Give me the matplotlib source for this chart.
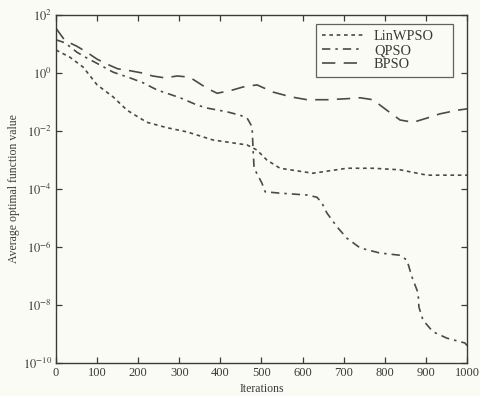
import matplotlib

matplotlib.use("Agg")

import matplotlib.pyplot as plt

plt.rcParams.update({
    "font.family": ["Liberation Serif", "DejaVu Serif"],
    "mathtext.fontset": "stix",
    "axes.linewidth": 1.0,
})

BG = "#fbfbf6"
INK = "#3a3a3a"
LINE = "#4a4a4a"

lin_iter = [0, 34, 66, 100, 139, 173, 221, 270, 319, 382, 465, 489, 513, 545,
            625, 708, 771, 837, 903, 1000]
lin_val = [6.2, 3.5, 1.6, 0.39, 0.15, 5.2e-2, 2.0e-2, 1.3e-2, 9.3e-3, 4.9e-3,
           3.3e-3, 2.2e-3, 1.0e-3, 5.2e-4, 3.5e-4, 5.2e-4, 5.2e-4, 4.6e-4,
           3.0e-4, 3.0e-4]

q_iter = [0, 22, 51, 75, 107, 139, 180, 212, 246, 302, 343, 367, 416, 448, 465,
          477, 480, 482, 501, 509, 545, 611, 635, 647, 659, 684, 708, 740, 788,
          837, 854, 866, 881, 883, 893, 917, 951, 995, 1000]
q_val = [14, 11, 5.2, 3.3, 1.9, 1.07, 0.68, 0.46, 0.26, 0.14, 7.9e-2, 6.2e-2,
         4.6e-2, 3.5e-2, 2.8e-2, 1.4e-2, 1.7e-3, 5.2e-4, 1.6e-4, 8.0e-5, 7.2e-5,
         6.2e-5, 5.2e-5, 3.3e-5, 1.5e-5, 4.9e-6, 2.0e-6, 9.3e-7, 6.2e-7, 5.2e-7,
         3.5e-7, 9.3e-8, 2.6e-8, 8.5e-9, 3.0e-9, 1.2e-9, 7.2e-10, 4.9e-10,
         4.0e-10]

b_iter = [0, 22, 50, 75, 100, 125, 150, 180, 210, 235, 265, 295, 325, 367, 392,
          430, 455, 489, 528, 572, 611, 660, 708, 740, 771, 805, 837, 869, 903,
          934, 976, 1000]
b_val = [35, 13, 8.5, 5.2, 3.0, 2.0, 1.4, 1.2, 1.0, 0.79, 0.68, 0.79, 0.72,
         0.30, 0.20, 0.26, 0.33, 0.39, 0.22, 0.15, 0.12, 0.12, 0.13, 0.14, 0.12,
         5.2e-2, 2.4e-2, 2.0e-2, 2.8e-2, 3.9e-2, 5.2e-2, 5.8e-2]

x_ticks = [0, 100, 200, 300, 400, 500, 600, 700, 800, 900, 1000]
y_ticks = [1e2, 1e0, 1e-2, 1e-4, 1e-6, 1e-8, 1e-10]
y_labels = [r"$10^{2}$", r"$10^{0}$", r"$10^{-2}$", r"$10^{-4}$",
            r"$10^{-6}$", r"$10^{-8}$", r"$10^{-10}$"]

fig = plt.figure(figsize=(4.81, 3.96), dpi=100, facecolor=BG)
ax = fig.add_axes([0.1164, 0.0833, 0.8545, 0.8788], facecolor=BG)

ax.plot(lin_iter, lin_val, color=LINE, lw=1.2, ls=(0, (2.2, 2.2)), label="LinWPSO")
ax.plot(q_iter, q_val, color=LINE, lw=1.2, ls=(0, (5, 3, 1.5, 3)), label="QPSO")
ax.plot(b_iter, b_val, color=LINE, lw=1.2, ls=(0, (8, 5)), label="BPSO")

ax.set_yscale("log")
ax.set_xlim(0, 1000)
ax.set_ylim(1e-10, 1e2)
ax.set_xticks(x_ticks)
ax.set_xticklabels([str(t) for t in x_ticks], fontsize=9, color=INK)
ax.set_yticks(y_ticks)
ax.set_yticklabels(y_labels, fontsize=9, color=INK)
ax.minorticks_off()
ax.tick_params(direction="in", top=True, right=True, length=4, width=0.9,
               color=INK, pad=3)
for spine in ax.spines.values():
    spine.set_color(INK)

ax.set_xlabel("Iterations", fontsize=8.5, color=INK, labelpad=3)
ax.set_ylabel("Average optimal function value", fontsize=8.5, color=INK, labelpad=2)

# legend box stretched to the reference width; labels stay left-aligned
leg = ax.legend(loc="upper right", bbox_to_anchor=(0.6326, 0.0, 0.3333, 0.974),
                mode="expand", borderaxespad=0, fontsize=10.4, frameon=True,
                fancybox=False, edgecolor=INK, facecolor=BG, handlelength=2.85,
                borderpad=0.4, labelspacing=0.08, handletextpad=0.76)
leg.get_frame().set_linewidth(0.9)
for t in leg.get_texts():
    t.set_color(INK)

fig.savefig("out.png", dpi=100, facecolor=BG)
